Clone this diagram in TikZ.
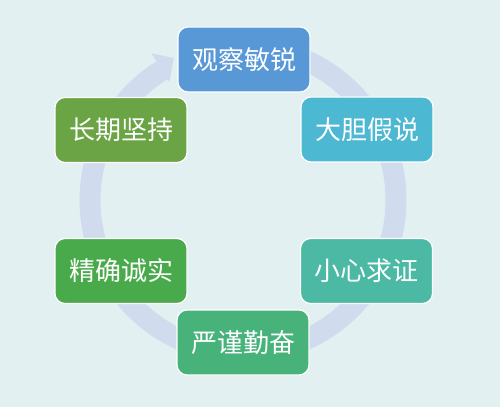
\documentclass[tikz,border=0pt]{standalone}
\usepackage{fontspec}
\setmainfont{Noto Sans CJK SC}
\definecolor{bgc}{HTML}{E3F0F2}
\definecolor{ringc}{HTML}{D0DBEE}
\definecolor{cA}{HTML}{5898D6}
\definecolor{cB}{HTML}{4CB8D2}
\definecolor{cC}{HTML}{4BB9A4}
\definecolor{cD}{HTML}{47B27A}
\definecolor{cE}{HTML}{49AA4B}
\definecolor{cF}{HTML}{6AA445}
\begin{document}
\begin{tikzpicture}[x=1pt,y=1pt,
  boxs/.style={rounded corners=10pt, draw=white, line width=1.2pt,
    minimum width=132pt, minimum height=65pt, inner sep=0pt,
    text=white, font=\fontsize{26pt}{26pt}\selectfont}]
\fill[bgc] (0,0) rectangle (500,407);
\useasboundingbox (0,0) rectangle (500,407);
\coordinate (C) at (243,207);
% ring arrow
\draw[ringc, line width=21pt] ([shift={(90:153)}]C) arc[start angle=90, end angle=-238, radius=153];
\coordinate (h1) at ([shift={(122:139)}]C);
\coordinate (h2) at ([shift={(122:173)}]C);
\coordinate (ht) at ([shift={(116:158)}]C);
\fill[ringc] (h1) -- (h2) -- (ht) -- cycle;
% boxes
\node[boxs, fill=cA] (a) at (244,347.5) {观察敏锐};
\node[boxs, fill=cB] (b) at (367,277.5) {大胆假说};
\node[boxs, fill=cC] (c) at (366.5,136) {小心求证};
\node[boxs, fill=cD] (d) at (243,64.5) {严谨勤奋};
\node[boxs, fill=cE] (e) at (121,136) {精确诚实};
\node[boxs, fill=cF] (f) at (121,277) {长期坚持};
\end{tikzpicture}
\end{document}
